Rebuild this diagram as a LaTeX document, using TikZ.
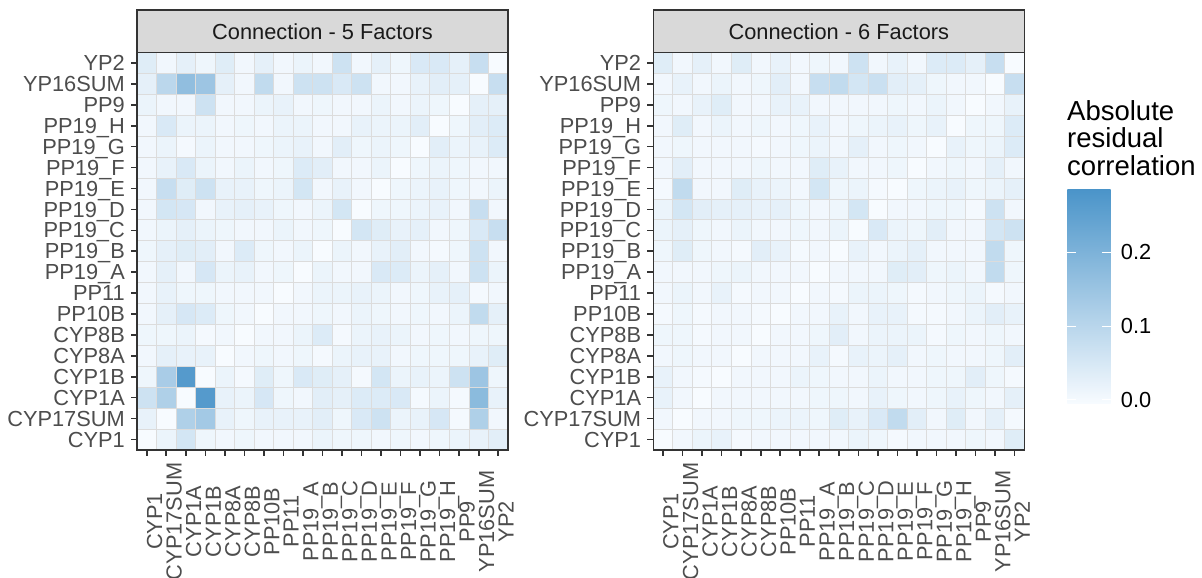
\documentclass[tikz,border=0pt]{standalone}
\usepackage{fontspec}
\setmainfont{Liberation Sans}
\usepackage{tikz}

\definecolor{lowfill}{HTML}{F7FBFF}
\definecolor{highfill}{HTML}{4A94C9}
\definecolor{tileline}{HTML}{DCDCDC}
\definecolor{framegrey}{HTML}{333333}
\definecolor{stripfill}{HTML}{D9D9D9}
\definecolor{axisgrey}{HTML}{4D4D4D}
\definecolor{striptext}{HTML}{1A1A1A}

\newcommand{\cellw}{19.526}
\newcommand{\cellh}{20.92}
\newcommand{\axisfont}{\fontsize{21.8}{24}\selectfont}
\newcommand{\titlefont}{\fontsize{27.5}{30}\selectfont}

% variables, top row first
\newcommand{\varnames}{YP2,YP16SUM,PP9,PP19\_H,PP19\_G,PP19\_F,PP19\_E,PP19\_D,PP19\_C,PP19\_B,PP19\_A,PP11,PP10B,CYP8B,CYP8A,CYP1B,CYP1A,CYP17SUM,CYP1}

% absolute residual correlation x 1000
\newcommand{\fivefactors}{%
  {40,10,30,15,40,10,30,10,20,10,70,10,30,15,50,50,30,80,0},%
  {30,100,170,150,30,10,90,10,70,70,50,70,10,10,25,35,30,0,80},%
  {20,10,10,70,10,10,20,25,10,15,10,10,20,10,20,15,0,30,30},%
  {10,50,20,20,10,15,10,20,20,10,10,25,20,20,35,0,15,35,45},%
  {10,20,5,20,10,10,15,20,25,10,35,15,20,15,0,35,20,25,45},%
  {10,25,50,20,10,20,10,15,45,35,10,10,20,0,15,20,15,10,10},%
  {10,80,40,70,25,25,15,20,60,10,25,10,0,15,20,25,15,10,20},%
  {10,60,55,10,25,30,25,15,10,20,60,0,15,15,20,25,10,80,10},%
  {10,20,30,20,15,10,10,20,10,15,0,60,40,25,30,10,15,50,80},%
  {15,30,40,35,10,45,15,10,20,0,20,10,25,35,10,5,15,70,10},%
  {10,30,10,55,20,25,10,15,0,20,10,10,50,45,20,30,10,70,20},%
  {10,25,15,15,10,10,10,0,10,20,20,25,20,10,15,25,30,5,10},%
  {10,30,55,45,15,10,0,10,10,15,10,20,15,10,15,10,20,90,30},%
  {15,15,20,5,10,0,10,10,20,45,5,20,25,20,10,15,10,15,15},%
  {10,30,25,25,0,10,15,10,15,5,20,25,25,10,15,15,15,25,40},%
  {15,130,270,0,20,5,40,15,50,40,30,5,60,20,25,20,70,150,15},%
  {70,120,0,270,25,20,55,15,10,35,30,45,45,50,5,20,5,180,25},%
  {25,0,120,140,25,15,25,25,25,35,15,50,70,20,25,55,5,120,10},%
  {0,20,60,15,10,15,10,10,10,20,15,15,10,15,10,15,20,25,35}}
\newcommand{\sixfactors}{%
  {40,10,30,10,40,10,25,10,15,10,70,10,25,10,45,45,30,80,0},%
  {10,25,10,20,10,15,35,10,80,90,60,75,35,30,15,10,10,0,80},%
  {15,10,25,40,10,10,25,25,10,10,10,10,15,10,20,10,0,10,25},%
  {10,40,10,20,10,15,10,15,25,10,15,20,25,15,25,0,15,15,45},%
  {10,15,10,10,10,5,10,15,20,10,30,10,15,10,0,25,15,20,45},%
  {10,35,10,10,10,15,10,10,40,25,10,10,15,0,10,15,10,30,10},%
  {5,90,10,10,40,25,20,10,60,15,20,5,0,15,20,25,15,20,30},%
  {20,60,35,30,30,25,30,15,10,15,60,0,10,10,15,15,5,70,10},%
  {20,30,15,10,20,10,10,15,10,20,0,50,20,15,35,10,10,60,70},%
  {15,40,15,10,5,35,25,5,10,0,25,10,20,30,10,10,10,90,15},%
  {10,10,10,15,20,10,10,10,0,10,10,10,40,35,15,20,10,90,15},%
  {10,20,10,25,5,10,10,0,10,5,20,20,15,5,10,15,20,5,10},%
  {5,15,5,10,10,5,0,10,10,25,10,25,25,5,5,10,20,35,25},%
  {15,15,5,10,10,0,10,10,15,35,10,20,20,20,5,15,10,15,10},%
  {10,15,10,10,0,10,10,10,25,5,25,20,30,10,15,10,10,15,35},%
  {25,10,5,0,10,10,10,20,15,10,10,20,10,10,15,15,35,15,5},%
  {25,10,0,10,10,10,10,10,15,15,10,25,15,10,15,25,15,10,30},%
  {10,0,10,10,15,15,20,20,15,40,25,50,90,35,10,40,10,30,5},%
  {0,10,20,25,5,10,10,10,10,10,20,15,5,10,10,10,15,10,40}}

\begin{document}
\begin{tikzpicture}
    [ x=1pt, y=-1pt
    , tile/.style={draw=tileline, line width=0.8pt}
    , frame/.style={draw=framegrey, line width=1.6pt}
    , strip/.style={fill=stripfill, draw=framegrey, line width=1.6pt}
    , tickmark/.style={draw=framegrey, line width=1.6pt}
    , ylabel/.style={anchor=base east, inner sep=0pt, text=axisgrey, font=\axisfont}
    , xlabel/.style={anchor=north, rotate=90, inner sep=0pt, text=axisgrey, font=\axisfont}
    , striplabel/.style={anchor=base, inner sep=0pt, text=striptext, font=\axisfont}
    , legendtext/.style={anchor=base west, inner sep=0pt, text=black, font=\axisfont}
    ]
\useasboundingbox (0,0) rectangle (1202,578);
\fill[white] (0,0) rectangle (1202,578);

% tiles, 5 factors
\foreach \row [count=\r from 0] in \fivefactors {
  \foreach \v [count=\c from 0] in \row {
    \pgfmathsetmacro{\pct}{\v/2.875}
    \path[tile, fill=highfill!\pct!lowfill] ({137+\c*\cellw},{52.5+\r*\cellh}) rectangle ++(\cellw,\cellh);
  }
}
% tiles, 6 factors
\foreach \row [count=\r from 0] in \sixfactors {
  \foreach \v [count=\c from 0] in \row {
    \pgfmathsetmacro{\pct}{\v/2.875}
    \path[tile, fill=highfill!\pct!lowfill] ({653.3+\c*\cellw},{52.5+\r*\cellh}) rectangle ++(\cellw,\cellh);
  }
}

% frames, strips, ticks, axis labels
\foreach \x/\title [count=\k] in {137/Connection - 5 Factors, 653.3/Connection - 6 Factors} {
  \draw[frame] (\x,52.5) rectangle ++(371,397.5);
  \draw[strip] (\x,10) rectangle ++(371,42.5);
  \node[striplabel] (strip\k) at ({\x+185.5},39.3) {\title};
  \foreach \name [count=\r from 0] in \varnames {
    \draw[tickmark] ({\x-6},{52.5+(\r+0.5)*\cellh}) -- ++(6,0);
    \node[ylabel] (ylab\k-\r) at ({\x-12},{52.5+(\r+0.5)*\cellh+7.6}) {\name};
    \draw[tickmark] ({\x+(18.5-\r)*\cellw},450) -- ++(0,6);
    \node[xlabel] (xlab\k-\r) at ({\x+(18.5-\r)*\cellw},521.5) {\name};
  }
}

% legend
\node[legendtext, font=\titlefont] (ltitle1) at (1067,120) {Absolute};
\node[legendtext, font=\titlefont] (ltitle2) at (1067,147.5) {residual};
\node[legendtext, font=\titlefont] (ltitle3) at (1067,175) {correlation};
\shade[top color=highfill, bottom color=lowfill] (1067.3,189) rectangle (1110.7,403);
\foreach \val/\y [count=\k] in {0.0/399.7, 0.1/326, 0.2/252.3} {
  \draw[white, line width=1pt] (1067.3,\y) -- ++(8.5,0) (1110.7,\y) -- ++(-8.5,0);
  \node[legendtext] (ltick\k) at (1120.7,\y+7.5) {\val};
}

\end{tikzpicture}
\end{document}
